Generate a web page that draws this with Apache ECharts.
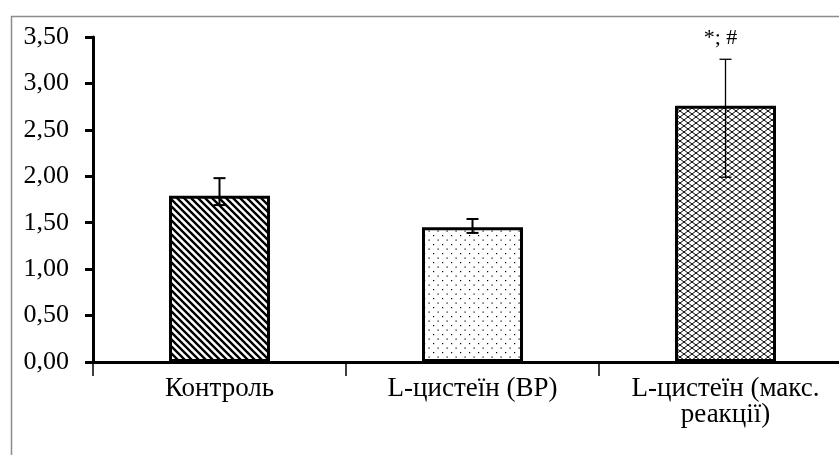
<!DOCTYPE html>
<html>
<head>
<meta charset="utf-8">
<script src="https://cdn.jsdelivr.net/npm/echarts@6/dist/echarts.min.js"></script>
<style>html,body{margin:0;padding:0;background:#fff;overflow:hidden;width:839px;height:455px;}#c{width:852px;height:455px;}</style>
</head>
<body>
<div id="c"></div>
<script>
var categories = ['Контроль', 'L-цистеїн (ВР)', 'L-цистеїн (макс.\nреакції)'];
var values = [1.79, 1.45, 2.76];
var errLow = [1.69, 1.39, 1.99];
var errHigh = [1.98, 1.54, 3.26];
var annotations = ['', '', '*; #'];
var yTicks = [0, 0.5, 1, 1.5, 2, 2.5, 3, 3.5];

function makeTile(w, h, draw) {
  var c = document.createElement('canvas');
  c.width = w; c.height = h;
  var ctx = c.getContext('2d');
  ctx.fillStyle = '#fff';
  ctx.fillRect(0, 0, w, h);
  ctx.strokeStyle = '#000';
  ctx.fillStyle = '#000';
  draw(ctx);
  return c;
}
var hatch = makeTile(7, 7, function (ctx) {
  ctx.lineWidth = 2.4;
  ctx.beginPath();
  ctx.moveTo(-1, -1); ctx.lineTo(8, 8);
  ctx.moveTo(-8, -1); ctx.lineTo(1, 8);
  ctx.moveTo(6, -1); ctx.lineTo(15, 8);
  ctx.stroke();
});
var dots = makeTile(9, 9, function (ctx) {
  ctx.fillRect(1, 1, 1.2, 1.2);
  ctx.fillRect(5.5, 5.5, 1.2, 1.2);
});
var lattice = makeTile(8, 6, function (ctx) {
  ctx.lineWidth = 1;
  ctx.beginPath();
  ctx.moveTo(0, 3); ctx.lineTo(4, 0); ctx.lineTo(8, 3);
  ctx.moveTo(0, 3); ctx.lineTo(4, 6); ctx.lineTo(8, 3);
  ctx.stroke();
});
var patterns = [hatch, dots, lattice];

var chart = echarts.init(document.getElementById('c'));
var serif = "'Liberation Serif', 'Times New Roman', serif";
chart.setOption({
  animation: false,
  backgroundColor: '#fff',
  graphic: [{
    type: 'rect', left: 9, top: 14, shape: { width: 860, height: 460 },
    style: { fill: 'none', stroke: '#8c8c8c', lineWidth: 1.5 }, silent: true, z: -1
  }],
  grid: { left: 93, right: 0, top: 37, bottom: 93, containLabel: false },
  xAxis: {
    type: 'category',
    data: categories,
    axisLine: { lineStyle: { color: '#000', width: 3 } },
    axisTick: { show: true, inside: false, length: 14, alignWithLabel: false, lineStyle: { color: '#000', width: 1.5 } },
    axisLabel: { color: '#000', fontFamily: serif, fontSize: 27, margin: 14, lineHeight: 26, interval: 0 },
    splitLine: { show: false }
  },
  yAxis: {
    type: 'value',
    min: 0, max: 3.5, interval: 0.5,
    axisLine: { show: true, lineStyle: { color: '#000', width: 3 } },
    axisTick: { show: true, inside: false, length: 8, lineStyle: { color: '#000', width: 3 } },
    axisLabel: {
      color: '#000', fontFamily: serif, fontSize: 26, margin: 24,
      formatter: function (v) { return v.toFixed(2).replace('.', ','); }
    },
    splitLine: { show: false }
  },
  series: [{
    type: 'bar',
    barWidth: 101,
    data: values.map(function (v, i) {
      return {
        value: v,
        itemStyle: {
          color: { image: patterns[i], repeat: 'repeat' },
          borderColor: '#000', borderWidth: 3
        }
      };
    })
  }, {
    type: 'custom',
    data: values.map(function (v, i) { return [i, errLow[i], errHigh[i]]; }),
    renderItem: function (params, api) {
      var x = api.coord([api.value(0), 0])[0];
      var lo = api.coord([api.value(0), api.value(1)])[1];
      var hi = api.coord([api.value(0), api.value(2)])[1];
      var hw = 6;
      var lw = params.dataIndex === 2 ? 1.3 : 2;
      var st = { stroke: '#000', lineWidth: lw };
      var children = [
        { type: 'line', shape: { x1: x, y1: hi, x2: x, y2: lo }, style: st },
        { type: 'line', shape: { x1: x - hw, y1: hi, x2: x + hw, y2: hi }, style: st },
        { type: 'line', shape: { x1: x - hw, y1: lo, x2: x + hw, y2: lo }, style: st }
      ];
      var ann = annotations[params.dataIndex];
      if (ann) {
        children.push({
          type: 'text',
          style: { text: ann, x: x - 5, y: hi - 21, align: 'center', verticalAlign: 'middle',
                   font: "22px 'Liberation Serif', serif", fill: '#000' }
        });
      }
      return { type: 'group', children: children };
    },
    z: 10
  }]
});
</script>
</body>
</html>
